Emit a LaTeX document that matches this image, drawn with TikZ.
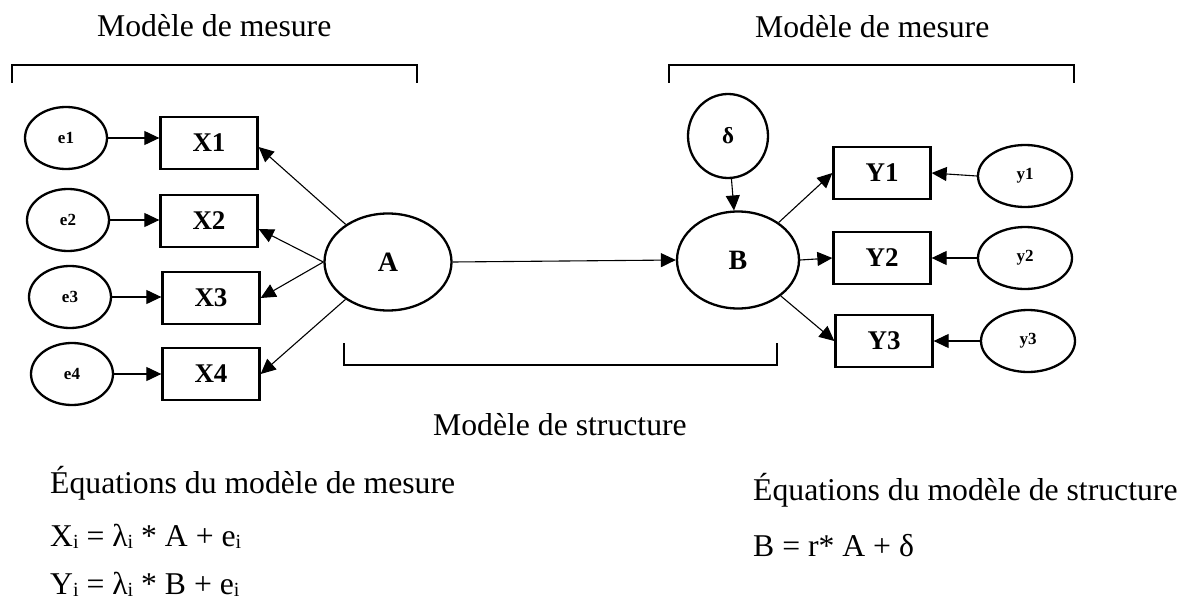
\documentclass[tikz,border=0pt]{standalone}
\usepackage{fontspec}
\setmainfont{Liberation Serif}
\usetikzlibrary{shapes.geometric,arrows.meta,calc}
\newcommand{\sbi}{\raisebox{-2pt}{\fontsize{20}{20}\selectfont i}}
\begin{document}
\begin{tikzpicture}[x=1pt,y=-1pt,
  lat/.style={ellipse,draw,line width=2.3pt,inner sep=0pt,font=\fontsize{28}{28}\selectfont\bfseries},
  err/.style={ellipse,draw,line width=2.3pt,inner sep=0pt,minimum width=82pt,minimum height=62pt,font=\fontsize{17}{17}\selectfont\bfseries},
  obs/.style={rectangle,draw,line width=2.3pt,inner sep=0pt,minimum width=97pt,minimum height=52pt,font=\fontsize{27}{27}\selectfont\bfseries},
  arr/.style={line width=1.1pt,-{Triangle[length=15pt,width=14pt]}},
  brk/.style={line width=2.5pt},
  txt/.style={anchor=base west,inner sep=0pt,font=\fontsize{31.7}{36}\selectfont}
]
\useasboundingbox (0,0) rectangle (1181,602);

% titles
\node[txt] (t1) at (97,37) {Modèle de mesure};
\node[txt] (t2) at (755,38) {Modèle de mesure};
\node[txt] (t3) at (433,435) {Modèle de structure};

% brackets
\draw[brk] (12,83) -- (12,65) -- (417,65) -- (417,83);
\draw[brk] (669,83) -- (669,65) -- (1074,65) -- (1074,83);
\draw[brk] (344,343) -- (344,365) -- (777,365) -- (777,343);

% error ellipses
\node[err] (e1) at (66,138) {e1};
\node[err] (e2) at (68,220) {e2};
\node[err] (e3) at (70,297) {e3};
\node[err] (e4) at (72,374) {e4};

% indicators X
\node[obs] (X1) at (209,143) {X1};
\node[obs] (X2) at (209,221) {X2};
\node[obs] (X3) at (211,298) {X3};
\node[obs] (X4) at (211,374) {X4};

% latents
\node[lat,minimum width=127pt,minimum height=97pt] (A) at (388,262) {A};
\node[lat,minimum width=122pt,minimum height=97pt] (B) at (738,260) {B};
\node[lat,minimum width=80pt,minimum height=84pt,font=\fontsize{23}{23}\selectfont\bfseries] (d) at (728,136) {δ};

% indicators Y
\node[obs] (Y1) at (882,173) {Y1};
\node[obs] (Y2) at (882,258) {Y2};
\node[obs] (Y3) at (884,341) {Y3};

% y errors
\node[err,minimum width=94pt] (y1) at (1025,176) {y1};
\node[err,minimum width=94pt] (y2) at (1025,258) {y2};
\node[err,minimum width=94pt] (y3) at (1028,341) {y3};

% connectors
\draw[arr] (e1) -- (e1 -| X1.west);
\draw[arr] (e2) -- (e2 -| X2.west);
\draw[arr] (e3) -- (e3 -| X3.west);
\draw[arr] (e4) -- (e4 -| X4.west);

\draw[arr] (A) -- ($(X1.east)+(0,4)$);
\draw[arr] (A.west) -- ($(X2.east)+(0,8)$);
\draw[arr] (A.west) -- (X3.east);
\draw[arr] (A) -- (X4.east);

\draw[arr] (A.east) -- (B.west);
\draw[arr] (d) -- (B);

\draw[arr] (B) -- (Y1.west);
\draw[arr] (B.east) -- (Y2.west);
\draw[arr] (B) -- (Y3.west);

\draw[arr] (y1.west) -- (Y1.east);
\draw[arr] (y2.west) -- (Y2.east);
\draw[arr] (y3.west) -- (Y3.east);

% equations
\node[txt] (eq1) at (50,493) {Équations du modèle de mesure};
\node[txt] (eq2) at (50,546) {X\sbi{} = λ\sbi{} * A + e\sbi};
\node[txt] (eq3) at (50,594) {Y\sbi{} = λ\sbi{} * B + e\sbi};
\node[txt] (eq4) at (753,500) {Équations du modèle de structure};
\node[txt] (eq5) at (753,556) {B = r* A + δ};
\end{tikzpicture}
\end{document}
